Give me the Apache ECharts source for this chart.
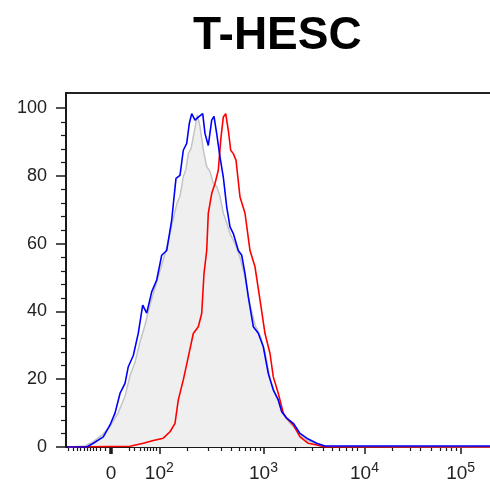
<!DOCTYPE html>
<html>
<head>
<meta charset="utf-8">
<script src="https://cdn.jsdelivr.net/npm/echarts@6/dist/echarts.min.js"></script>
<style>html,body{margin:0;padding:0;background:#fff;overflow:hidden}#c{width:490px;height:485px}</style>
</head>
<body>
<div id="c"></div>
<script>
// x values are display channels of the biexponential axis
var titleText = 'T-HESC';
var xMax = 435;
var majorTickChannels = [45, 93.3, 197.5, 298.5, 394.7];
var majorTickBase = ['0', '10', '10', '10', '10'];
var majorTickExp = ['', '2', '3', '4', '5'];
var zeroBlobTicks = [43.8, 44.6, 45.4, 46.2];
var minorTickChannels = [2.3, 7.3, 11.3, 14.7, 18, 21.3, 24, 27.3, 30.7, 34.7, 39,
  63.3, 68, 74, 78, 81.3, 84.7, 87.3, 90.7,
  121.3, 142.3, 155.7, 165, 173, 179, 184, 189, 194,
  229, 246.7, 257, 266, 273, 280, 286, 291,
  326.7, 344, 354, 365.7, 374, 380.7, 385.7, 390];
var yMajorTicks = [0, 20, 40, 60, 80, 100];
var yMinorTicks = [4, 8, 12, 16, 24, 28, 32, 36, 44, 48, 52, 56, 64, 68, 72, 76, 84, 88, 92, 96];

var grayX = [2, 19, 27, 37, 44, 52, 59, 64, 69, 74, 79, 84, 89, 94, 99, 104, 107, 111, 114, 117.3, 120, 122.3, 125, 127.3, 129.5, 131.3, 134, 137.3, 140.7, 144, 147.3, 150.7, 154, 157.3, 161, 164, 169, 174, 179, 184, 189, 194, 199, 204, 209, 214, 219, 224, 229, 234, 241, 249, 259, 435];
var grayY = [0, 0.3, 1.5, 3.8, 6, 10, 15, 21, 25, 31, 36, 42, 47, 52, 57, 63, 67, 72, 74, 79.8, 82, 86.7, 88, 91.6, 95, 98, 94.6, 87.7, 82.8, 81.3, 77.9, 76.9, 74, 69, 66, 63, 60, 56, 50, 42, 36, 33, 28, 20, 16, 12, 9, 7, 5.5, 3.5, 2, 1, 0.2, 0];

var redX = [2, 64, 77.3, 87.3, 97.3, 104, 109, 112.3, 117.3, 122.3, 127.3, 132.3, 135.7, 138, 140.7, 142.3, 145.7, 149, 152.3, 154.7, 157.3, 159.7, 162.3, 164.7, 167.3, 170, 174, 179, 184, 189, 194, 199, 204, 207.3, 212.3, 217.3, 220.7, 227.3, 234, 242.3, 250.7, 259, 435];
var redY = [0, 0.2, 1.1, 1.9, 2.6, 4.5, 7, 13.9, 19.8, 26.6, 33.5, 35.5, 39.4, 51.2, 58, 69, 74.8, 77.8, 81.7, 90.6, 97.4, 98.4, 93.5, 87.6, 86.6, 84.7, 73.8, 69, 58, 53.2, 43.4, 33.5, 27.6, 20.7, 15.8, 10, 8.5, 6.5, 3, 1.1, 0.6, 0, 0];

var blueX = [2, 20.7, 27.3, 37.3, 44, 49, 54, 59, 62.3, 67.3, 72.3, 76.7, 80.7, 85.7, 90.7, 95.7, 100.7, 105.7, 110, 114, 117.3, 120.7, 123.3, 125.7, 129, 132.3, 136.7, 139, 142.3, 145.7, 148, 150.7, 154, 157.3, 160.7, 164, 167.3, 172.3, 175.7, 179, 182.3, 187.3, 192.3, 197.3, 202.3, 207.3, 212.3, 215.7, 220.7, 227.3, 234, 240.7, 250.7, 259, 435];
var blueY = [0, 0, 1.1, 3, 6.5, 10, 15.8, 18.8, 23.7, 27, 33.6, 41.9, 39.5, 45.8, 49.3, 56.6, 58, 67, 79.3, 80.2, 87.6, 89.6, 95.5, 98.4, 96.5, 97.4, 98.4, 92.5, 89, 96.5, 97.6, 92.5, 85.6, 79.7, 70.9, 65, 63, 58, 56.6, 51.2, 44.3, 35.5, 33.6, 29.6, 21.7, 16.8, 13.9, 10.4, 8.5, 7, 4, 2.6, 1.1, 0.3, 0.3];

function pairs(xs, ys) { return xs.map(function (x, i) { return [x, ys[i]]; }); }

var chart = echarts.init(document.getElementById('c'), null, {renderer: 'canvas'});
var font = 'Liberation Sans, Arial, sans-serif';
var axisColor = '#1a1a1a';
var option = {
  animation: false,
  backgroundColor: '#fff',
  title: {
    text: titleText,
    left: 188, top: 8,
    textStyle: {fontFamily: font, fontWeight: 'bold', fontSize: 46, color: '#000'}
  },
  grid: {
    left: 66, top: 93, width: 435, height: 354,
    outerBoundsMode: 'none', containLabel: false,
    show: true, borderColor: '#222', borderWidth: 2, backgroundColor: 'transparent'
  },
  xAxis: [{
    type: 'value', min: 0, max: xMax, position: 'bottom',
    axisLine: {show: true, lineStyle: {color: axisColor, width: 2}},
    axisTick: {show: true, length: 7, customValues: majorTickChannels.concat(zeroBlobTicks), lineStyle: {color: axisColor, width: 1.5}},
    axisLabel: {
      show: true, margin: 14, customValues: majorTickChannels,
      formatter: function (v) {
        for (var i = 0; i < majorTickChannels.length; i++) {
          if (Math.abs(majorTickChannels[i] - v) < 0.01) {
            return '{b|' + majorTickBase[i] + '}' + (majorTickExp[i] ? '{s|' + majorTickExp[i] + '}' : '');
          }
        }
        return '';
      },
      rich: {
        b: {fontFamily: font, fontSize: 19, color: '#222', lineHeight: 22, verticalAlign: 'bottom'},
        s: {fontFamily: font, fontSize: 14, color: '#222', lineHeight: 22, verticalAlign: 'top'}
      }
    },
    splitLine: {show: false}
  }, {
    type: 'value', min: 0, max: xMax, position: 'bottom',
    axisLine: {show: false},
    axisTick: {show: true, length: 4, customValues: minorTickChannels, lineStyle: {color: axisColor, width: 1.2}},
    axisLabel: {show: false},
    splitLine: {show: false}
  }],
  yAxis: [{
    type: 'value', min: 0, max: 104.5, position: 'left',
    axisLine: {show: true, lineStyle: {color: axisColor, width: 2}},
    axisTick: {show: true, length: 10, customValues: yMajorTicks, lineStyle: {color: axisColor, width: 1.5}},
    axisLabel: {show: true, margin: 19, customValues: yMajorTicks, fontFamily: font, fontSize: 18, color: '#222'},
    splitLine: {show: false}
  }, {
    type: 'value', min: 0, max: 104.5, position: 'left',
    axisLine: {show: false},
    axisTick: {show: true, length: 5, customValues: yMinorTicks, lineStyle: {color: axisColor, width: 1.2}},
    axisLabel: {show: false},
    splitLine: {show: false}
  }],
  series: [{
    type: 'line', xAxisIndex: 0, yAxisIndex: 0, symbol: 'none',
    data: pairs(grayX, grayY),
    lineStyle: {color: '#c4c4c4', width: 1.5},
    areaStyle: {color: '#efefef', opacity: 1},
    z: 2
  }, {
    type: 'line', xAxisIndex: 0, yAxisIndex: 0, symbol: 'none',
    data: pairs(redX, redY),
    lineStyle: {color: '#ff0000', width: 1.6},
    z: 3
  }, {
    type: 'line', xAxisIndex: 0, yAxisIndex: 0, symbol: 'none',
    data: pairs(blueX, blueY),
    lineStyle: {color: '#0000ff', width: 1.6},
    z: 4
  }]
};
chart.setOption(option);
</script>
</body>
</html>
